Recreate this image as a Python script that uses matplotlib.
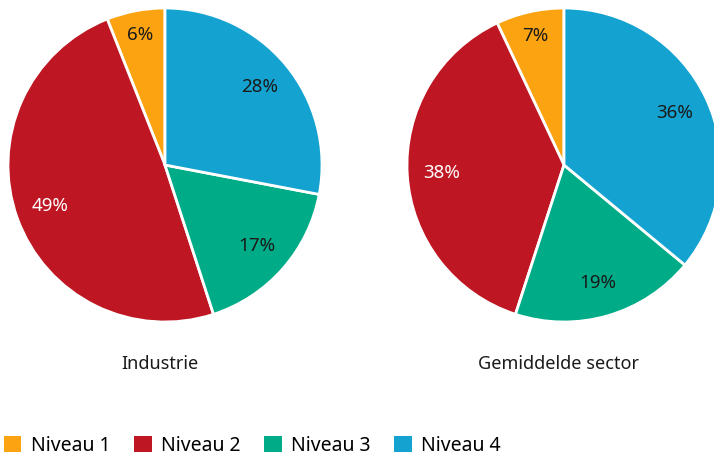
import matplotlib
matplotlib.use("Agg")
import matplotlib.pyplot as plt
from matplotlib.patches import Patch
import numpy as np

plt.rcParams['font.family'] = ['Noto Sans', 'DejaVu Sans']

categories = ["Niveau 1", "Niveau 2", "Niveau 3", "Niveau 4"]
industrie = [6, 49, 17, 28]
gemiddeld = [7, 38, 19, 36]
titles = ["Industrie", "Gemiddelde sector"]
colors = ["#FCA311", "#BE1622", "#00AC87", "#14A3D0"]
text_colors = ["#1a1a1a", "white", "#1a1a1a", "#1a1a1a"]

W, H = 714, 455
fig = plt.figure(figsize=(W / 100, H / 100), dpi=100)

R = 157
centers = [(165, 165), (564, 165)]
title_x = [160, 558]
for (cx, cy), tx, vals, title in zip(centers, title_x, [industrie, gemiddeld], titles):
    ax = fig.add_axes([(cx - R) / W, (H - cy - R) / H, 2 * R / W, 2 * R / H])
    wedges, _ = ax.pie(vals, colors=colors, startangle=90, counterclock=True,
                       radius=1, wedgeprops=dict(edgecolor="white", linewidth=2))
    for w, v, tc in zip(wedges, vals, text_colors):
        ang = np.deg2rad((w.theta1 + w.theta2) / 2)
        d = 0.84 if v < 10 else 0.78
        ax.text(d * np.cos(ang), d * np.sin(ang), f"{v}%", ha="center", va="center",
                fontsize=13.5, color=tc)
    ax.set_xlim(-1, 1)
    ax.set_ylim(-1, 1)
    ax.set_aspect("equal")
    ax.axis("off")
    for wd in wedges:
        wd.set_clip_on(False)
    fig.text(tx / W, 1 - 364 / H, title, ha="center", va="center", fontsize=13, color="#1a1a1a")

handles = [Patch(facecolor=c, edgecolor="none") for c in colors]
fig.legend(handles, categories, loc="lower left", bbox_to_anchor=(0, -0.01), ncol=4,
           frameon=False, fontsize=14, handlelength=0.9, handleheight=0.9,
           handletextpad=0.5, columnspacing=1.2, borderaxespad=0.0, borderpad=0.2)

fig.savefig("out.png", dpi=100)
